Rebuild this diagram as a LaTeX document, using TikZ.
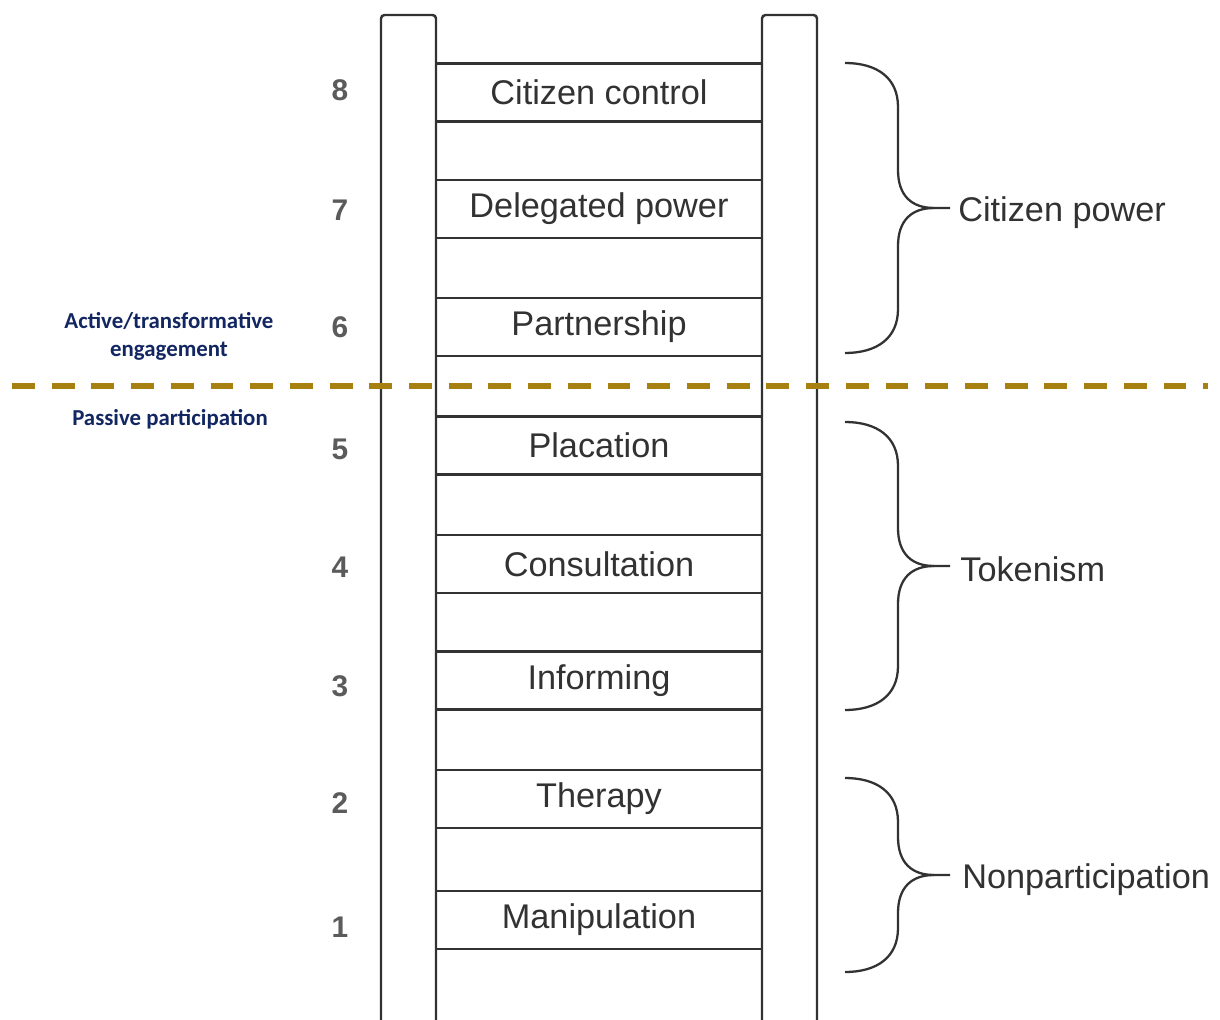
\documentclass[tikz,border=0pt]{standalone}
\usepackage{fontspec}
\setmainfont{Liberation Sans}
\newfontfamily\calibri{Carlito}
\usepackage{tikz}
\usetikzlibrary{positioning}

\definecolor{ladderink}{RGB}{50,50,50}
\definecolor{navytext}{RGB}{18,38,98}
\definecolor{dividergold}{RGB}{166,128,16}

\tikzset{
  rail/.style={draw=ladderink, line width=1.4pt, rounded corners=2pt},
  rung/.style={draw=ladderink, line width=1.2pt, rectangle, minimum width=6.52cm,
               minimum height=1.16cm, inner sep=0pt, text=ladderink,
               font=\fontsize{19.5}{22}\selectfont},
  rungno/.style={text=ladderink!80, font=\fontsize{17}{20}\selectfont\bfseries},
  brace line/.style={draw=ladderink, line width=1.3pt},
  grouplabel/.style={anchor=west, inner sep=0pt, text=ladderink,
                     font=\fontsize{19.5}{22}\selectfont},
  sidenote/.style={align=center, text=navytext, font=\calibri\bfseries\fontsize{13}{16}\selectfont},
}

% curly bracket grouping rungs: top y, bottom y (picture units)
\newcommand{\groupbrace}[2]{%
  \pgfmathsetmacro{\ymid}{(#1+#2)/2}
  \draw[brace line] (845,#1) .. controls (876,#1) and (898,#1+14) .. (898,#1+44)
    -- (898,\ymid-38) .. controls (898,\ymid-12) and (912,\ymid) .. (934,\ymid) -- (950,\ymid);
  \draw[brace line] (934,\ymid) .. controls (912,\ymid) and (898,\ymid+12) .. (898,\ymid+38)
    -- (898,#2-44) .. controls (898,#2-14) and (876,#2) .. (845,#2);
}

\begin{document}
\begin{tikzpicture}[x=0.02cm, y=-0.02cm]
  \useasboundingbox[fill=white] (0,0) rectangle (1220,1020);

  % the two rails
  \draw[rail] (381,1030) -- (381,15) -- (436,15) -- (436,1030);
  \draw[rail] (762,1030) -- (762,15) -- (817,15) -- (817,1030);

  % rungs
  \node[rung] (rung8) at (599,92.5) {Citizen control};
  \node[rung] (rung7) at (599,209) {Delegated power};
  \node[rung] (rung6) at (599,327) {Partnership};
  \node[rung] (rung5) at (599,445.5) {Placation};
  \node[rung] (rung4) at (599,564) {Consultation};
  \node[rung] (rung3) at (599,680.5) {Informing};
  \node[rung] (rung2) at (599,799) {Therapy};
  \node[rung] (rung1) at (599,920) {Manipulation};

  % step numbers
  \node[rungno] (no8) at (340,90) {8};
  \node[rungno] (no7) at (340,210) {7};
  \node[rungno] (no6) at (340,327) {6};
  \node[rungno] (no5) at (340,449) {5};
  \node[rungno] (no4) at (340,567) {4};
  \node[rungno] (no3) at (340,686) {3};
  \node[rungno] (no2) at (340,803) {2};
  \node[rungno] (no1) at (340,927) {1};

  % groups
  \groupbrace{63}{353}
  \node[grouplabel] (power) at (958,213) {Citizen power};
  \groupbrace{422}{710}
  \node[grouplabel] (token) at (960,569) {Tokenism};
  \groupbrace{778}{972}
  \node[grouplabel] (nonpart) at (962,880) {Nonparticipation};

  % divider
  \draw[dividergold, line width=3.4pt, dash pattern=on 13pt off 9.6pt] (12,386) -- (1208,386);
  \node[sidenote] (active) at (169,336) {Active/transformative\\engagement};
  \node[sidenote] (passive) at (170,419) {Passive participation};
\end{tikzpicture}
\end{document}
